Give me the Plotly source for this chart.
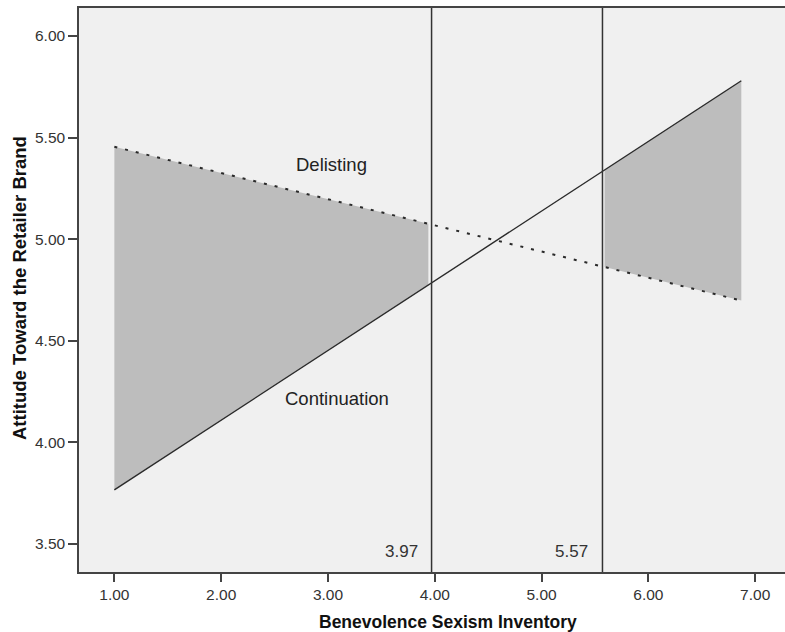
import numpy as np
import plotly.graph_objects as go

# ---- data ----
line_x = [1.0, 6.87]
continuation_y = [3.766, 5.78]
delisting_y = [5.455, 4.698]
jn_points = [3.97, 5.57]          # Johnson-Neyman boundaries
shade_left = [1.0, 3.94]          # shaded significance region (left)
shade_right = [5.59, 6.87]        # shaded significance region (right)
x_ticks = [1, 2, 3, 4, 5, 6, 7]
y_ticks = [3.5, 4.0, 4.5, 5.0, 5.5, 6.0]

FONT = "Liberation Sans, Arial, sans-serif"

W, H = 785, 632
L, T, B = 79, 8, 60
pw, ph = W - L, H - T - B

def px_to_paper_x(px):
    return (px - L) / pw

def px_to_paper_y(py):
    return ((H - B) - py) / ph

def poly(bounds):
    xs = np.array(bounds)
    top = np.interp(xs, line_x, delisting_y)
    bot = np.interp(xs, line_x, continuation_y)
    px = [xs[0], xs[1], xs[1], xs[0], xs[0]]
    py = [top[0], top[1], bot[1], bot[0], top[0]]
    return px, py

fig = go.Figure()
for b in (shade_left, shade_right):
    px, py = poly(b)
    fig.add_trace(go.Scatter(x=px, y=py, mode="lines", fill="toself",
                             fillcolor="#bdbdbd", line=dict(width=0),
                             hoverinfo="skip", showlegend=False))

fig.add_trace(go.Scatter(x=line_x, y=delisting_y, mode="lines",
                         line=dict(color="#2a2a2a", width=2, dash="3px,8px"),
                         showlegend=False, name="Delisting"))
fig.add_trace(go.Scatter(x=line_x, y=continuation_y, mode="lines",
                         line=dict(color="#2a2a2a", width=1.4),
                         showlegend=False, name="Continuation"))

for v in jn_points:
    fig.add_shape(type="line", x0=v, x1=v, y0=0, y1=1, xref="x", yref="paper",
                  line=dict(color="#333333", width=1.5))
    fig.add_annotation(x=v, y=3.461, xref="x", yref="y", text=f"{v:.2f}",
                       showarrow=False, xanchor="right", yanchor="middle",
                       xshift=-12, font=dict(family=FONT, size=17, color="#333333"))

fig.add_annotation(x=3.036, y=5.37, text="Delisting", showarrow=False,
                   xanchor="center", yanchor="middle",
                   font=dict(family=FONT, size=18.5, color="#222222"))
fig.add_annotation(x=3.08, y=4.218, text="Continuation", showarrow=False,
                   xanchor="center", yanchor="middle",
                   font=dict(family=FONT, size=18.5, color="#222222"))

# axis titles
fig.add_annotation(x=px_to_paper_x(448), y=px_to_paper_y(622), xref="paper", yref="paper",
                   text="<b>Benevolence Sexism Inventory</b>", showarrow=False,
                   xanchor="center", yanchor="middle",
                   font=dict(family=FONT, size=17.5, color="#111111"))
fig.add_annotation(x=px_to_paper_x(19), y=px_to_paper_y(288), xref="paper", yref="paper",
                   text="<b>Attitude Toward the Retailer Brand</b>", showarrow=False,
                   textangle=-90, xanchor="center", yanchor="middle",
                   font=dict(family=FONT, size=18.5, color="#111111"))

fig.update_layout(
    width=W, height=H,
    margin=dict(l=L, r=0, t=T, b=B),
    paper_bgcolor="white", plot_bgcolor="#f0f0f0",
    font=dict(family=FONT, color="#333333"),
    xaxis=dict(range=[0.669, 7.279], tickvals=x_ticks,
               ticktext=[f"{v:.2f}" for v in x_ticks],
               showgrid=False, zeroline=False, showline=True, mirror=True,
               linecolor="#444444", linewidth=1.5, ticks="outside", ticklen=8,
               tickcolor="#444444", tickwidth=1.5,
               tickfont=dict(family=FONT, size=15.5, color="#333333")),
    yaxis=dict(range=[3.362, 6.138], tickvals=y_ticks,
               ticktext=[f"{v:.2f}" for v in y_ticks],
               showgrid=False, zeroline=False, showline=True,
               linecolor="#444444", linewidth=1.5, ticks="outside", ticklen=9,
               tickcolor="#444444", tickwidth=1.5,
               tickfont=dict(family=FONT, size=15.5, color="#333333")),
)

fig.write_html("out.html")
